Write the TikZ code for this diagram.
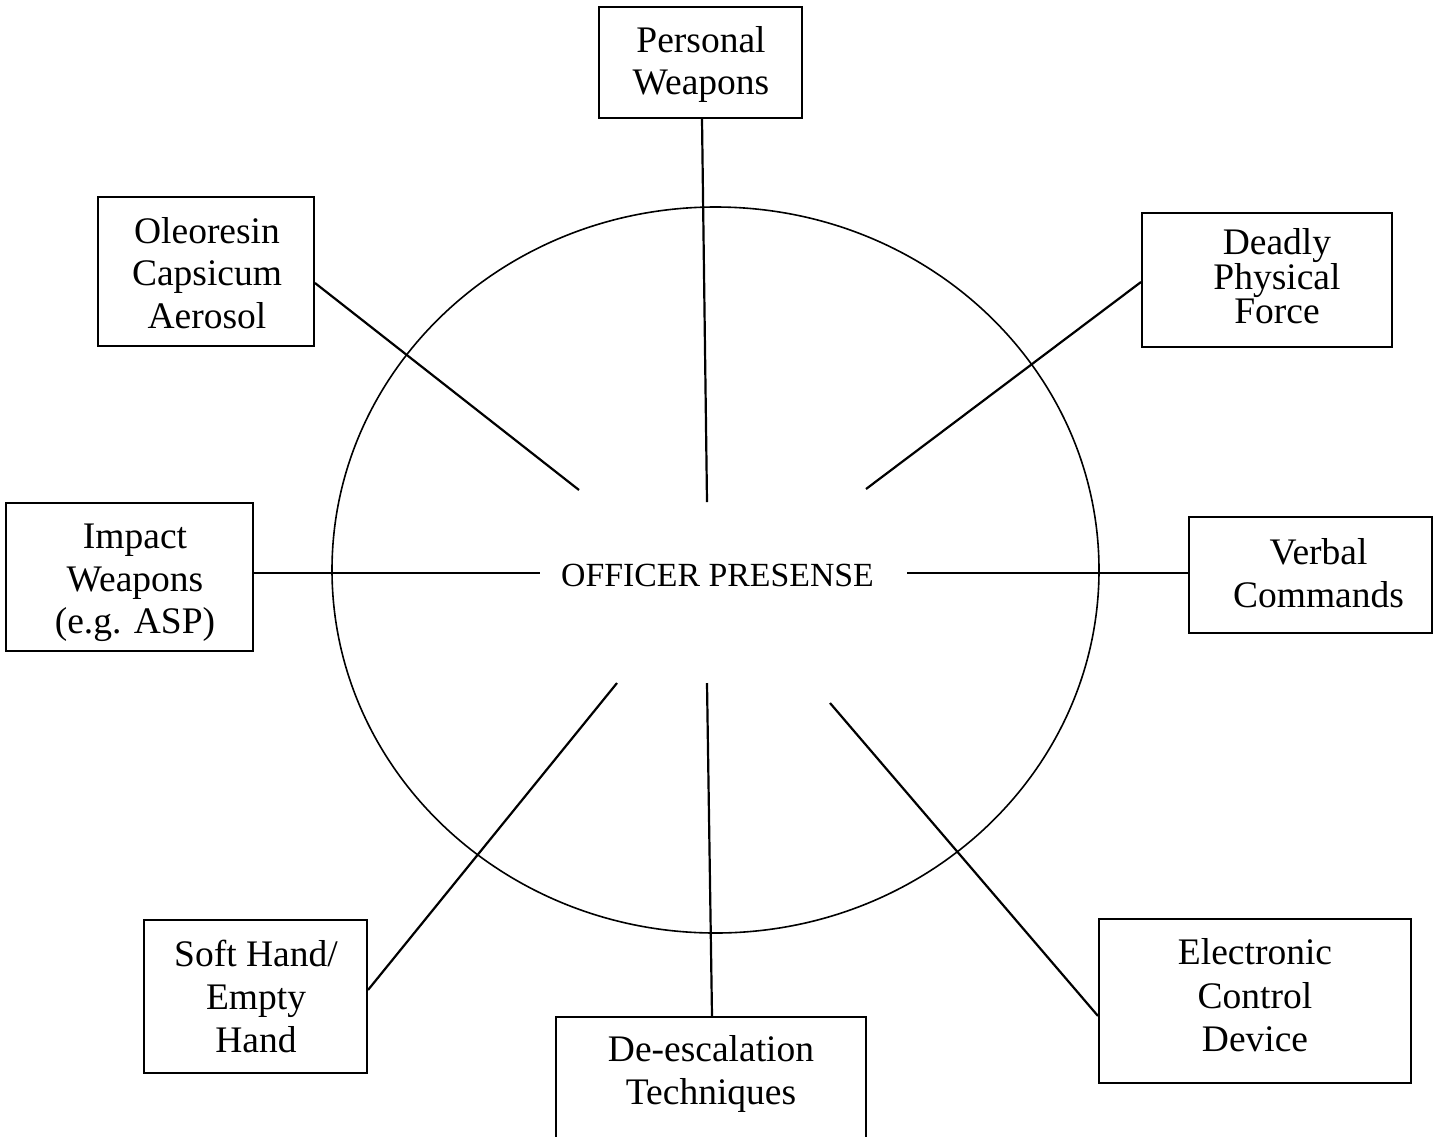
\documentclass[tikz,border=0pt]{standalone}
\usepackage{fontspec}
\setmainfont{Liberation Serif}
\usetikzlibrary{shapes.geometric}
\tikzset{
  boxnode/.style={draw, line width=2pt, inner sep=0pt, rectangle},
  txt/.style={align=center, inner sep=0pt, font=\fontsize{37.5}{42.5}\selectfont},
  txttight/.style={align=center, inner sep=0pt, font=\fontsize{37.5}{34}\selectfont},
  conn/.style={line width=2.2pt},
}
\begin{document}
\begin{tikzpicture}[x=1pt,y=-1pt]
\useasboundingbox (0,0) rectangle (1437,1136);
\clip (0,0) rectangle (1437,1136);
\fill[white] (0,0) rectangle (1437,1136);

% central ellipse
\node[draw, ellipse, line width=1.6pt, inner sep=0pt, minimum width=767, minimum height=726] (op) at (715.5,570) {};
\node[inner sep=0pt, font=\fontsize{33.8}{40}\selectfont] (opt) at (717.5,575) {OFFICER PRESENSE};

% boxes
\node[boxnode, minimum width=203, minimum height=111] (pw) at (700.5,62.5) {};
\node[txt] (pwt) at (701,64.5) {Personal\\Weapons};

\node[boxnode, minimum width=216, minimum height=149] (oc) at (206,271.5) {};
\node[txt] (oct) at (207,273) {Oleoresin\\Capsicum\\Aerosol};

\node[boxnode, minimum width=250, minimum height=134] (dp) at (1267,280) {};
\node[txttight] (dpt) at (1277,276) {Deadly\\Physical\\Force};

\node[boxnode, minimum width=247, minimum height=148] (iw) at (129.5,577) {};
\node[txt] (iwt) at (135,583) {Impact\\Weapons\\(e.g. ASP)};

\node[boxnode, minimum width=243, minimum height=116] (vc) at (1310.5,575) {};
\node[txt, font=\fontsize{37.5}{43}\selectfont] (vct) at (1318.5,573) {Verbal\\Commands};

\node[boxnode, minimum width=223, minimum height=153] (sh) at (255.5,996.5) {};
\node[txt, font=\fontsize{37.5}{43}\selectfont] (sht) at (256,996) {Soft Hand/\\Empty\\Hand};

\node[boxnode, minimum width=310, minimum height=143] (de) at (711,1088.5) {};
\node[txt, font=\fontsize{37.5}{43}\selectfont] (det) at (711,1074) {De-escalation\\Techniques};

\node[boxnode, minimum width=312, minimum height=164] (ec) at (1255,1001) {};
\node[txt, font=\fontsize{37.5}{43.5}\selectfont] (ect) at (1255,995.5) {Electronic\\Control\\Device};

% inner free ends
\coordinate (pwin) at (707,502);
\coordinate (ocin) at (579,490);
\coordinate (dpin) at (866,489);
\coordinate (iwin) at (540,573);
\coordinate (vcin) at (907,573);
\coordinate (shin) at (617,683);
\coordinate (dein) at (707,683);
\coordinate (ecin) at (830,703);

% connectors
\draw[conn] (pw.south -| 702,0) -- (pwin);
\draw[conn] (oc.east |- 0,283) -- (ocin);
\draw[conn] (dp.west |- 0,282) -- (dpin);
\draw[conn] (iw.east |- 0,573) -- (iwin);
\draw[conn] (vc.west |- 0,573) -- (vcin);
\draw[conn] (sh.east |- 0,990) -- (shin);
\draw[conn] (de.north -| 712,0) -- (dein);
\draw[conn] (ec.west |- 0,1016) -- (ecin);
\end{tikzpicture}
\end{document}
